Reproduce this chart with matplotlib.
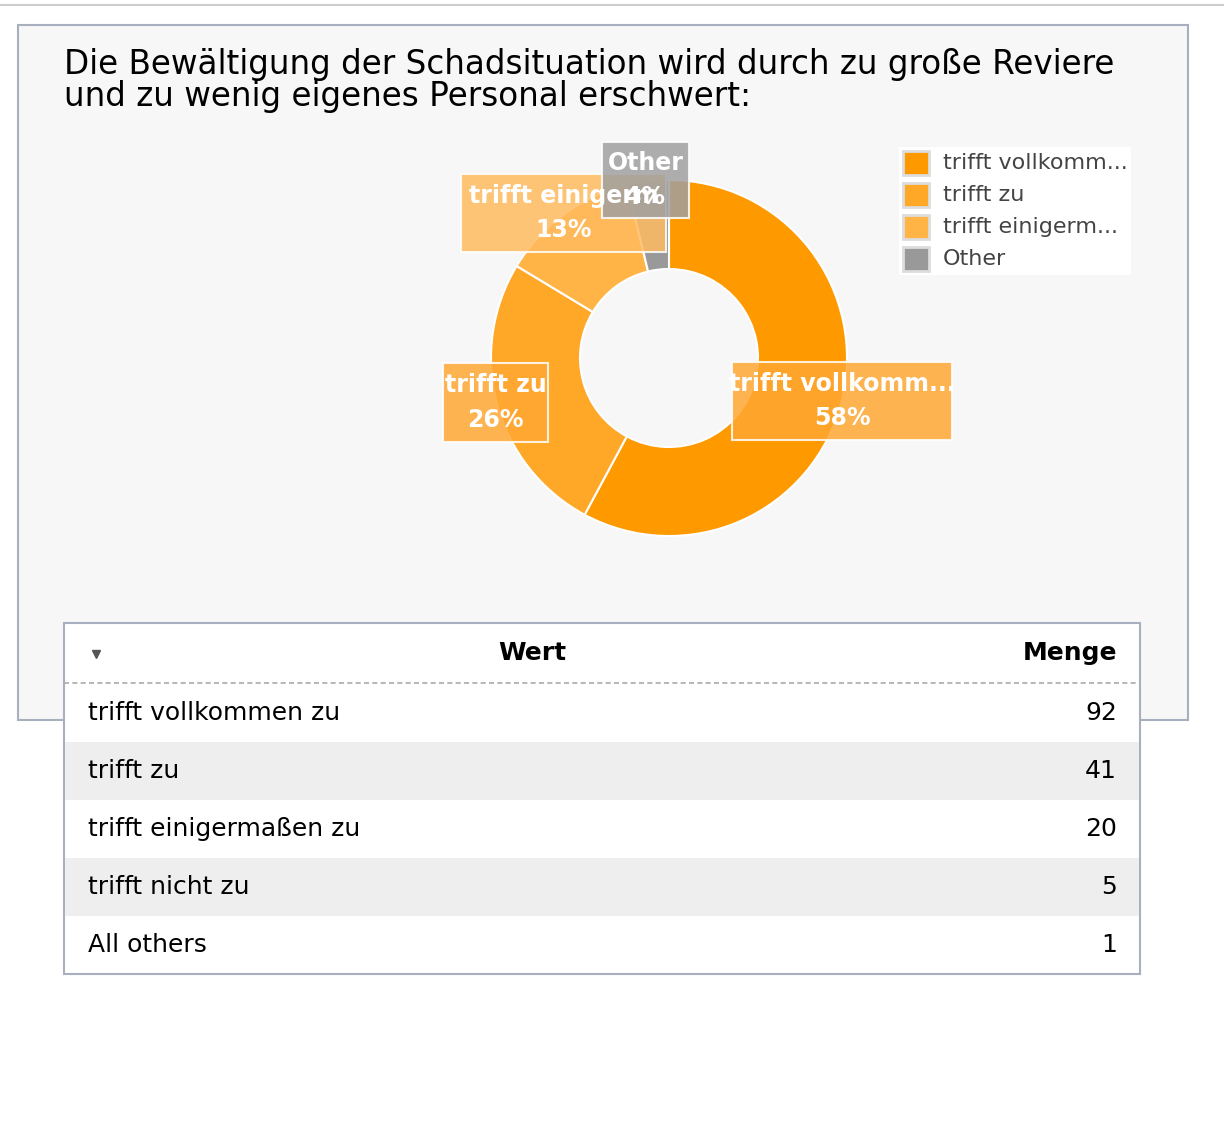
import matplotlib.pyplot as plt
from matplotlib.patches import Rectangle

W, H = 1224, 1134

# data
slice_labels = ["trifft vollkomm...", "trifft zu", "trifft einigerm...", "Other"]
slice_values = [92, 41, 20, 6]
slice_colors = ["#ff9900", "#ffa726", "#ffb445", "#999999"]
table_rows = ["trifft vollkommen zu", "trifft zu", "trifft einigermaßen zu", "trifft nicht zu", "All others"]
table_counts = [92, 41, 20, 5, 1]
title = "Die Bewältigung der Schadsituation wird durch zu große Reviere\nund zu wenig eigenes Personal erschwert:"

fig = plt.figure(figsize=(W / 100, H / 100), dpi=100)
ax = fig.add_axes([0, 0, 1, 1])
ax.set_xlim(0, W)
ax.set_ylim(H, 0)
ax.axis("off")

ax.plot([0, W], [5, 5], color="#cccccc", lw=1.5)
ax.add_patch(Rectangle((18, 25), 1170, 695, facecolor="#f7f7f7", edgecolor="#a8b0c0", lw=1.5))
ax.text(64, 48, title, fontsize=23.5, va="top", ha="left", color="black", linespacing=0.95)

# donut
pax = fig.add_axes([491 / W, 1 - 536 / H, 356 / W, 356 / H])
pax.pie(slice_values, colors=slice_colors, startangle=90, counterclock=False,
        wedgeprops=dict(width=0.5, edgecolor="white", linewidth=1.5))
pax.set_xlim(-1, 1)
pax.set_ylim(-1, 1)
pax.axis("off")

# overlay for labels, legend and table
ov = fig.add_axes([0, 0, 1, 1])
ov.set_xlim(0, W)
ov.set_ylim(H, 0)
ov.axis("off")
ov.patch.set_alpha(0)

total = sum(slice_values)
pcts = [round(v * 100 / total) for v in slice_values]
label_boxes = [(732, 362, 220, 78, "#ffa733"), (443, 363, 105, 79, "#ffa733"),
               (461, 174, 205, 78, "#ffbb60"), (602, 142, 87, 76, "#a0a0a0")]
for (x, y, w, h, c), lab, p in zip(label_boxes, slice_labels, pcts):
    ov.add_patch(Rectangle((x, y), w, h, facecolor=c, edgecolor="white", lw=1.5, alpha=0.85, zorder=5))
    ov.text(x + w / 2, y + h * 0.28, lab if lab != "trifft einigerm..." else "trifft einigerm",
            fontsize=17, color="white", fontweight="semibold", ha="center", va="center", zorder=6)
    ov.text(x + w / 2, y + h * 0.72, f"{p}%", fontsize=17, color="white", fontweight="semibold",
            ha="center", va="center", zorder=6)

# legend
ov.add_patch(Rectangle((899, 147), 232, 128, facecolor="white", edgecolor="none"))
for i, (lab, c) in enumerate(zip(slice_labels, slice_colors)):
    y = 163 + i * 32
    ov.add_patch(Rectangle((903, y - 12), 26, 24, facecolor=c, edgecolor="#dddddd", lw=2))
    ov.text(943, y, lab, fontsize=16, color="#444444", va="center")

# table
tx, tw, ty = 64, 1076, 623
ov.add_patch(Rectangle((tx, ty), tw, 351, facecolor="white", edgecolor="#a8b0c0", lw=1.5, zorder=3))
ov.text(532, 653, "Wert", fontsize=18, fontweight="bold", ha="center", va="center", zorder=4)
ov.text(1117, 653, "Menge", fontsize=18, fontweight="bold", ha="right", va="center", zorder=4)
ov.plot([96], [654], marker="v", color="#555555", markersize=6, zorder=4)
ov.plot([tx, tx + tw], [683, 683], color="#aaaaaa", lw=1.2, ls=(0, (3, 2)), zorder=4)
for i, (name, cnt) in enumerate(zip(table_rows, table_counts)):
    y0 = 684 + i * 58
    if i % 2 == 1:
        ov.add_patch(Rectangle((tx + 1, y0), tw - 2, 58, facecolor="#eeeeee", edgecolor="none", zorder=3))
    ov.text(88, y0 + 29, name, fontsize=18, va="center", zorder=4)
    ov.text(1117, y0 + 29, str(cnt), fontsize=18, va="center", ha="right", zorder=4)

fig.savefig("out.png", dpi=100)
